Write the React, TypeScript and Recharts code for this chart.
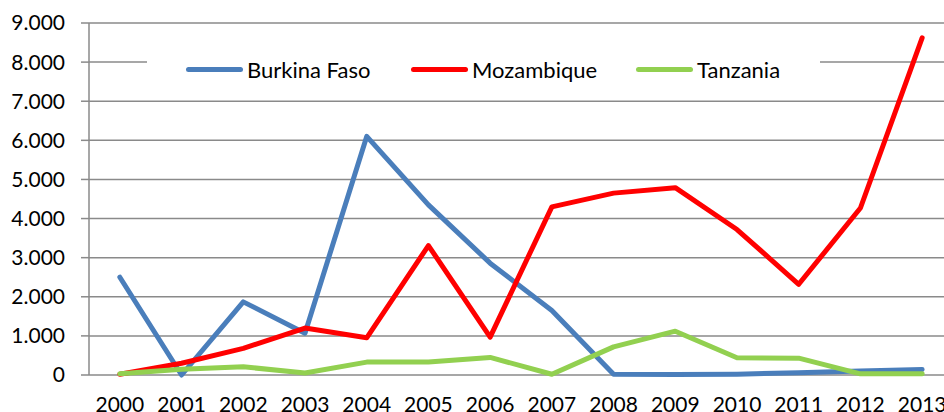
import React from 'react';
import { LineChart, Line, XAxis, YAxis, CartesianGrid, Legend } from 'recharts';

const years = [2000, 2001, 2002, 2003, 2004, 2005, 2006, 2007, 2008, 2009, 2010, 2011, 2012, 2013];
const burkinaFaso = [2500, 0, 1870, 1070, 6100, 4350, 2860, 1650, 20, 10, 20, 60, 100, 140];
const mozambique = [20, 300, 680, 1200, 950, 3310, 970, 4300, 4650, 4790, 3720, 2320, 4270, 8620];
const tanzania = [30, 150, 210, 50, 330, 330, 450, 20, 720, 1120, 440, 430, 30, 30];
const yTicks = [0, 1000, 2000, 3000, 4000, 5000, 6000, 7000, 8000, 9000];
const boundaryTicks = [1999.5, 2000.5, 2001.5, 2002.5, 2003.5, 2004.5, 2005.5, 2006.5, 2007.5, 2008.5, 2009.5, 2010.5, 2011.5, 2012.5, 2013.5];

const seriesList = [
  { key: 'bf', name: 'Burkina Faso', color: '#4A7EBB', values: burkinaFaso },
  { key: 'mz', name: 'Mozambique', color: '#FF0000', values: mozambique },
  { key: 'tz', name: 'Tanzania', color: '#92D050', values: tanzania },
];

const data = years.map((y, i) => {
  const row: any = { year: y };
  seriesList.forEach((s) => { row[s.key] = s.values[i]; });
  return row;
});

const FONT = 'Lato, "Open Sans", sans-serif';
const GRAY = '#8a8a8a';

const fmt = (v: number) => (v === 0 ? '0' : (v / 1000).toFixed(3));

const LegendContent = () => (
  <div style={{ display: 'flex', alignItems: 'center', height: '100%', paddingLeft: 39, fontFamily: FONT, fontSize: 22, color: '#000' }}>
    {seriesList.map((s) => (
      <div key={s.key} style={{ width: 225, flexShrink: 0, display: 'flex', alignItems: 'center' }}>
        <div style={{ width: 57, height: 5, borderRadius: 3, background: s.color, marginRight: 4, flexShrink: 0 }} />
        <span style={{ whiteSpace: 'nowrap' }}>{s.name}</span>
      </div>
    ))}
  </div>
);

export default function App() {
  return (
    <div style={{ position: 'absolute', left: 0, top: 0, width: 944, height: 412, overflow: 'hidden', background: '#fff' }}>
      <LineChart width={1000} height={440} data={data} margin={{ top: 23, right: 47, left: 0, bottom: 35 }}>
        <CartesianGrid horizontal vertical={false} stroke={GRAY} strokeWidth={1.5} />
        <XAxis
          xAxisId="marks"
          dataKey="year"
          type="number"
          domain={[1999.5, 2013.5]}
          ticks={boundaryTicks}
          tick={false}
          height={0}
          tickSize={7}
          axisLine={{ stroke: GRAY, strokeWidth: 1.5 }}
          tickLine={{ stroke: GRAY, strokeWidth: 1.5 }}
        />
        <XAxis
          xAxisId="labels"
          dataKey="year"
          type="number"
          domain={[1999.5, 2013.5]}
          ticks={years}
          height={30}
          axisLine={false}
          tickLine={false}
          tickSize={6}
          tickMargin={16}
          interval={0}
          tick={{ fontFamily: FONT, fontSize: 21, fill: '#000' }}
        />
        <YAxis
          width={89}
          domain={[0, 9000]}
          ticks={yTicks}
          tickFormatter={fmt}
          tickSize={8}
          tickMargin={16}
          axisLine={{ stroke: GRAY, strokeWidth: 1.5 }}
          tickLine={{ stroke: GRAY, strokeWidth: 1.5 }}
          tick={{ fontFamily: FONT, fontSize: 21, fill: '#000' }}
        />
        <Legend
          layout="horizontal"
          verticalAlign="middle"
          align="center"
          content={() => <LegendContent />}
          wrapperStyle={{ left: 147, top: 49, width: 673, height: 40, background: '#fff' }}
        />
        {seriesList.map((s) => (
          <Line
            key={s.key}
            xAxisId="labels"
            dataKey={s.key}
            name={s.name}
            stroke={s.color}
            strokeWidth={5}
            strokeLinejoin="round"
            strokeLinecap="round"
            dot={false}
            isAnimationActive={false}
          />
        ))}
      </LineChart>
    </div>
  );
}
